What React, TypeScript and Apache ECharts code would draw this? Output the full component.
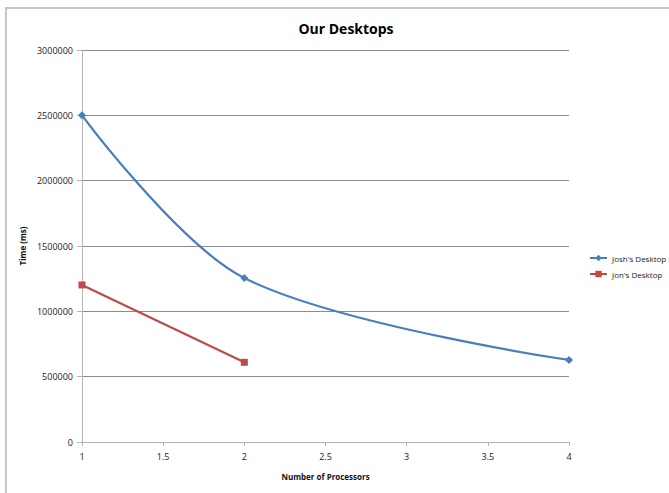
import React, { useEffect, useRef } from "react";
import * as echarts from "echarts";

const processors = [1, 2, 4];
const joshTimes = [2500000, 1255000, 628000];
const jonProcessors = [1, 2];
const jonTimes = [1202000, 610000];
const yTicks = [0, 500000, 1000000, 1500000, 2000000, 2500000, 3000000];
const xTicks = [1, 1.5, 2, 2.5, 3, 3.5, 4];

const FONT = "Open Sans";

export default function App() {
  const ref = useRef<HTMLDivElement>(null);
  useEffect(() => {
    if (!ref.current) return;
    const chart = echarts.init(ref.current, undefined, { renderer: "svg" });
    chart.setOption({
      animation: false,
      backgroundColor: "#ffffff",
      textStyle: { fontFamily: FONT },
      title: {
        text: "Our Desktops",
        left: 341,
        top: 16,
        textAlign: "center",
        textStyle: { fontFamily: FONT, fontSize: 14, fontWeight: "bold", color: "#000" },
      },
      graphic: [
        {
          type: "rect",
          shape: { x: 6, y: 8, width: 720, height: 600 },
          style: { fill: "none", stroke: "#c6c6c6", lineWidth: 2 },
          silent: true,
          z: -10,
        },
      ],
      legend: {
        orient: "vertical",
        left: 584,
        top: 249,
        itemGap: 8,
        itemWidth: 17,
        itemHeight: 8,
        textStyle: { fontFamily: FONT, fontSize: 8, color: "#222" },
        data: ["Josh's Desktop", "Jon's Desktop"],
      },
      grid: { left: 82, right: 100, top: 50, bottom: 51 },
      xAxis: {
        type: "value",
        min: xTicks[0],
        max: xTicks[xTicks.length - 1],
        interval: 0.5,
        name: "Number of Processors",
        nameLocation: "middle",
        nameGap: 30,
        nameTextStyle: { fontFamily: FONT, fontSize: 8, fontWeight: "bold", color: "#111" },
        axisLine: { show: true, lineStyle: { color: "#b4b4b4", width: 1 } },
        axisTick: { show: true, length: 4, inside: false, lineStyle: { color: "#b4b4b4" } },
        axisLabel: { fontFamily: FONT, fontSize: 9, color: "#222", margin: 10 },
        splitLine: { show: false },
      },
      yAxis: {
        type: "value",
        min: yTicks[0],
        max: yTicks[yTicks.length - 1],
        interval: 500000,
        name: "Time (ms)",
        nameLocation: "middle",
        nameGap: 50,
        nameRotate: 90,
        nameTextStyle: { fontFamily: FONT, fontSize: 8, fontWeight: "bold", color: "#111" },
        axisLine: { show: true, lineStyle: { color: "#b4b4b4", width: 1 } },
        axisTick: { show: true, length: 5, lineStyle: { color: "#b4b4b4" } },
        axisLabel: {
          fontFamily: FONT,
          fontSize: 9,
          color: "#222",
          margin: 9,
          formatter: (v: number) => String(v),
        },
        splitLine: { show: true, lineStyle: { color: "#8c8c8c", width: 1 } },
      },
      series: [
        {
          name: "Josh's Desktop",
          type: "line",
          smooth: 0.33,
          data: processors.map((p, i) => [p, joshTimes[i]]),
          symbol: "diamond",
          symbolSize: 8,
          itemStyle: { color: "#4a7ebb" },
          lineStyle: { color: "#4a7ebb", width: 2.25 },
        },
        {
          name: "Jon's Desktop",
          type: "line",
          data: jonProcessors.map((p, i) => [p, jonTimes[i]]),
          symbol: "rect",
          symbolSize: 7,
          itemStyle: { color: "#be4b48" },
          lineStyle: { color: "#be4b48", width: 2.25 },
        },
      ],
    });
    return () => chart.dispose();
  }, []);
  return (
    <div
      ref={ref}
      style={{ position: "fixed", left: 0, top: 0, width: 669, height: 493 }}
    />
  );
}
